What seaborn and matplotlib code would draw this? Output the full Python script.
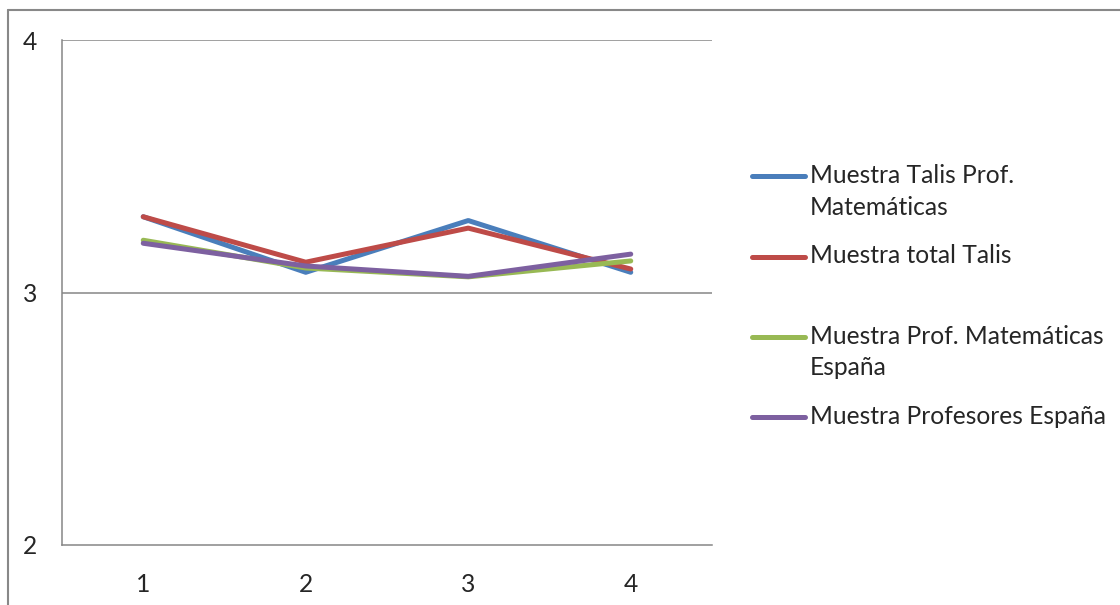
import numpy as np
import pandas as pd
import matplotlib
matplotlib.use("Agg")
import matplotlib.pyplot as plt
from matplotlib.lines import Line2D
from matplotlib.legend_handler import HandlerLine2D
import seaborn as sns

categories = ["1", "2", "3", "4"]
talis_prof_mat = [3.30, 3.08, 3.285, 3.08]
talis_total = [3.30, 3.12, 3.255, 3.093]
espana_prof_mat = [3.207, 3.097, 3.062, 3.125]
espana_prof = [3.195, 3.105, 3.064, 3.152]
series_names = ["Muestra Talis Prof.\nMatemáticas",
                "Muestra total Talis",
                "Muestra Prof. Matemáticas\nEspaña",
                "Muestra Profesores España"]
colors = ["#4A7EBB", "#BE4B48", "#98B954", "#7D60A0"]
y_ticks = [2, 3, 4]

sns.set_style("white")
plt.rcParams["font.family"] = ["Lato", "DejaVu Sans"]
FS = 17.7
LS = 1.45

all_vals = [talis_prof_mat, talis_total, espana_prof_mat, espana_prof]
rows = []
for name, vals in zip(series_names, all_vals):
    for i, v in enumerate(vals):
        rows.append({"pos": i + 0.5, "serie": name, "valor": v})
df = pd.DataFrame(rows)

fig = plt.figure(figsize=(11.2, 6.05), dpi=100)
ax = fig.add_axes([62 / 1120, 1 - 545 / 605, 650 / 1120, 505 / 605])

sns.lineplot(data=df, x="pos", y="valor", hue="serie", hue_order=series_names,
             palette=colors, linewidth=3.6, sort=False, legend=False, ax=ax,
             solid_capstyle="round", solid_joinstyle="round")

gray = "#868686"
ax.set_xlim(0, 4)
ax.set_ylim(2, 4)
ax.set_yticks(y_ticks)
ax.set_yticklabels([str(t) for t in y_ticks])
ax.set_xticks(np.arange(0, 5))
ax.set_xticklabels([])
ax.set_xticks(np.arange(4) + 0.5, minor=True)
ax.set_xticklabels(categories, minor=True)
ax.tick_params(axis="x", which="major", direction="out", length=5, width=1.1, color=gray)
ax.tick_params(axis="x", which="minor", length=0, pad=20, labelsize=FS)
ax.tick_params(axis="y", direction="out", length=5, width=1.1, color=gray, pad=13, labelsize=FS)
for yv in y_ticks[1:]:
    ax.axhline(yv, color=gray, lw=1.1, zorder=0)
for s in ["top", "right"]:
    ax.spines[s].set_visible(False)
for s in ["left", "bottom"]:
    ax.spines[s].set_color(gray)
    ax.spines[s].set_linewidth(1.1)
ax.set_xlabel("")
ax.set_ylabel("")


class TopLine(HandlerLine2D):
    def __init__(self, shift, **kw):
        super().__init__(**kw)
        self.shift = shift

    def create_artists(self, legend, orig_handle, xdescent, ydescent, width, height,
                       fontsize, trans):
        arts = super().create_artists(legend, orig_handle, xdescent, ydescent, width,
                                      height, fontsize, trans)
        for a in arts:
            a.set_ydata(np.asarray(a.get_ydata(), dtype=float) + self.shift)
        return arts


shift_pt = 0.5 * 32 * 72 / 100

handles = []
labels = []
hmap = {}
for name, c in zip(series_names, colors):
    h = Line2D([], [], color=c, lw=3.6, solid_capstyle="round")
    handles.append(h)
    lab = name if "\n" in name else name + "\n "
    labels.append(lab)
    hmap[h] = TopLine(shift_pt)

leg = fig.legend(handles, labels, loc="upper left", bbox_to_anchor=(752 / 1120, 1 - 164 / 605),
                 frameon=False, fontsize=FS, handlelength=2.15, handletextpad=0.2,
                 labelspacing=1.05, handler_map=hmap, borderaxespad=0, borderpad=0)
for t in leg.get_texts():
    t.set_linespacing(LS)

fig.add_artist(Line2D([8 / 1120, 1], [1 - 10 / 605, 1 - 10 / 605], color="#888888", lw=1.5,
                      transform=fig.transFigure))
fig.add_artist(Line2D([8 / 1120, 8 / 1120], [0, 1 - 10 / 605], color="#888888", lw=1.5,
                      transform=fig.transFigure))

fig.savefig("out.png", dpi=100)
